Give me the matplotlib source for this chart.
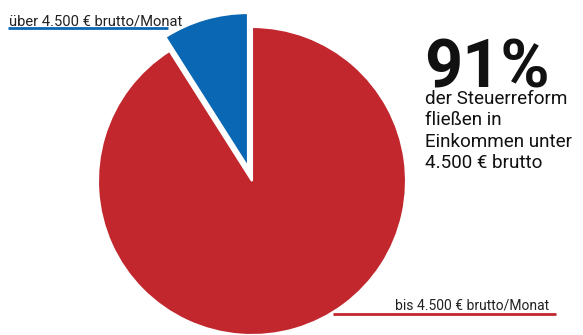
import matplotlib
matplotlib.use("Agg")
import matplotlib.pyplot as plt

# data
shares = [9, 91]
slice_colors = ["#0a67b3", "#c1272d"]
label_over = "über 4.500 € brutto/Monat"
label_under = "bis 4.500 € brutto/Monat"
headline = "91%"
body_lines = ["der Steuerreform", "fließen in", "Einkommen unter", "4.500 € brutto"]

W, H = 583, 335
plt.rcParams['font.family'] = ['Roboto', 'DejaVu Sans']

fig = plt.figure(figsize=(W / 100, H / 100), dpi=100)
ax = fig.add_axes([0, 0, 1, 1])

def Y(y):
    # pixel row (from top) -> data y
    return H - y

# explode is in data units here (pixels), not a fraction of radius
ax.pie(shares, colors=slice_colors, startangle=90, counterclock=True,
       radius=154, center=(252, Y(181)), explode=[14.5, 0],
       wedgeprops=dict(edgecolor="white", linewidth=1.5))

ax.set_xlim(0, W)
ax.set_ylim(0, H)
ax.set_aspect("auto")
ax.axis("off")

# leader lines + labels
ax.plot([8, 168], [Y(28), Y(28)], color=slice_colors[0], lw=2, solid_capstyle="butt")
ax.text(9, Y(25), label_over, fontsize=10.6, color="#222222", va="baseline", ha="left")
ax.plot([333, 556], [Y(314), Y(314)], color=slice_colors[1], lw=2, solid_capstyle="butt")
ax.text(395, Y(310), label_under, fontsize=10, color="#222222", va="baseline", ha="left")

# headline
ax.text(424, Y(87), headline, fontsize=48, fontweight="bold", color="#111111",
        va="baseline", ha="left")
for i, line in enumerate(body_lines):
    ax.text(425, Y(104 + i * 21.3), line, fontsize=13.6, color="#111111",
            va="baseline", ha="left")

fig.savefig("out.png", dpi=100)
